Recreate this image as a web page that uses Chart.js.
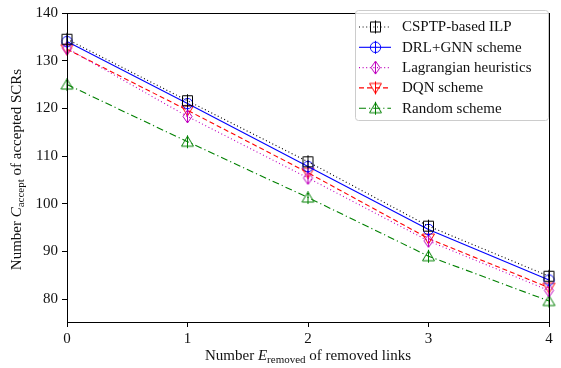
<!DOCTYPE html>
<html><head><meta charset="utf-8">
<script src="https://cdn.jsdelivr.net/npm/chart.js@4"></script>
<style>html,body{margin:0;padding:0;background:#fff}#wrap{width:561px;height:368px}</style>
</head><body><div id="wrap"><canvas id="c" width="561" height="368"></canvas></div>
<script>
const xLabels = [0, 1, 2, 3, 4];
const seriesNames = ["CSPTP-based ILP", "DRL+GNN scheme", "Lagrangian heuristics", "DQN scheme", "Random scheme"];
const ilp = [134.5, 121.6, 108.8, 95.3, 84.8];
const drlgnn = [134.0, 121.0, 107.8, 94.6, 84.0];
const lagrangian = [132.6, 118.3, 105.4, 92.2, 81.8];
const dqn = [132.4, 119.6, 106.5, 92.7, 82.4];
const randomScheme = [125.0, 113.0, 101.3, 89.0, 79.6];
const yTicks = [80, 90, 100, 110, 120, 130, 140];
const xTicks = [0, 1, 2, 3, 4];

const FONT = "'Liberation Serif', 'DejaVu Serif', serif";

function makeMarker(shape, color) {
  const s = 15, c = document.createElement('canvas');
  c.width = s; c.height = s;
  const g = c.getContext('2d');
  g.strokeStyle = color; g.lineWidth = 1;
  const m = s / 2;
  g.beginPath();
  if (shape === 'square') { g.rect(m - 5, m - 5, 10, 10); }
  else if (shape === 'circle') { g.arc(m, m, 5.2, 0, Math.PI * 2); }
  else if (shape === 'diamond') { g.moveTo(m, m - 6.5); g.lineTo(m + 4.5, m); g.lineTo(m, m + 6.5); g.lineTo(m - 4.5, m); g.closePath(); }
  else if (shape === 'tdown') { g.moveTo(m - 6, m - 4.5); g.lineTo(m + 6, m - 4.5); g.lineTo(m, m + 5.5); g.closePath(); }
  else if (shape === 'tup') { g.moveTo(m - 6, m + 4.5); g.lineTo(m + 6, m + 4.5); g.lineTo(m, m - 5.5); g.closePath(); }
  g.stroke();
  g.beginPath(); g.moveTo(m, 1); g.lineTo(m, s - 1); g.stroke();
  return c;
}

const styles = [
  { color: '#000000', dash: [1, 2.6], shape: 'square', data: ilp },
  { color: '#0000ff', dash: [], shape: 'circle', data: drlgnn },
  { color: '#bf00bf', dash: [1, 2.6], shape: 'diamond', data: lagrangian },
  { color: '#ff0000', dash: [5, 3], shape: 'tdown', data: dqn },
  { color: '#008000', dash: [7, 3, 1.2, 3], shape: 'tup', data: randomScheme },
];

const datasets = styles.map((st, i) => {
  const img = makeMarker(st.shape, st.color);
  st.img = img;
  return {
    label: seriesNames[i],
    data: st.data,
    borderColor: st.color,
    backgroundColor: st.color,
    borderWidth: 1.1,
    borderDash: st.dash,
    pointStyle: img,
    pointRadius: 6,
    tension: 0,
    fill: false,
    clip: false,
  };
});

function drawRich(ctx, parts, x, y, align) {
  let total = 0;
  parts.forEach(p => { ctx.font = p.font; total += ctx.measureText(p.t).width; });
  let cx = align === 'center' ? x - total / 2 : x;
  parts.forEach(p => {
    ctx.font = p.font;
    ctx.textAlign = 'left';
    ctx.fillText(p.t, cx, y + (p.dy || 0));
    cx += ctx.measureText(p.t).width;
  });
}

const framePlugin = {
  id: 'frameLegend',
  afterDraw(chart) {
    const ctx = chart.ctx, a = chart.chartArea;
    ctx.save();
    ctx.strokeStyle = '#000'; ctx.lineWidth = 1; ctx.setLineDash([]);
    ctx.strokeRect(Math.round(a.left) + 0.5, Math.round(a.top) + 0.5, Math.round(a.right - a.left), Math.round(a.bottom - a.top));
    // legend
    const lx = 355, ly = 10, lw = 193, lh = 110;
    ctx.fillStyle = 'rgba(255,255,255,0.85)';
    ctx.strokeStyle = '#cccccc';
    ctx.beginPath();
    ctx.roundRect(lx + 0.5, ly + 0.5, lw, lh, 3);
    ctx.fill(); ctx.stroke();
    styles.forEach((st, i) => {
      const y = ly + 17 + i * 20.3;
      ctx.strokeStyle = st.color; ctx.lineWidth = 1.1; ctx.setLineDash(st.dash);
      ctx.beginPath(); ctx.moveTo(359, y); ctx.lineTo(391, y); ctx.stroke();
      ctx.setLineDash([]);
      ctx.drawImage(st.img, 375.5 - st.img.width / 2, y - st.img.height / 2);
      ctx.fillStyle = '#111';
      ctx.font = '15px ' + FONT;
      ctx.textAlign = 'left'; ctx.textBaseline = 'middle';
      ctx.fillText(seriesNames[i], 402, y + 0.5);
    });
    // axis titles
    ctx.fillStyle = '#111';
    ctx.textBaseline = 'alphabetic';
    drawRich(ctx, [
      { t: 'Number ', font: '15px ' + FONT },
      { t: 'E', font: 'italic 15px ' + FONT },
      { t: 'removed', font: '11px ' + FONT, dy: 2.5 },
      { t: ' of removed links', font: '15px ' + FONT },
    ], (a.left + a.right) / 2, 360, 'center');
    ctx.save();
    ctx.translate(21, (a.top + a.bottom) / 2 + 2);
    ctx.rotate(-Math.PI / 2);
    drawRich(ctx, [
      { t: 'Number ', font: '15px ' + FONT },
      { t: 'C', font: 'italic 15px ' + FONT },
      { t: 'accept', font: '11px ' + FONT, dy: 2.5 },
      { t: ' of accepted SCRs', font: '15px ' + FONT },
    ], 0, 0, 'center');
    ctx.restore();
    ctx.restore();
  }
};

new Chart(document.getElementById('c'), {
  type: 'line',
  data: { labels: xLabels, datasets },
  plugins: [framePlugin],
  options: {
    responsive: false,
    animation: false,
    events: [],
    layout: { padding: { left: 0, right: 12, top: 9, bottom: 0 } },
    plugins: { legend: { display: false }, tooltip: { enabled: false } },
    scales: {
      x: {
        type: 'linear', min: 0, max: 4,
        afterFit(s) { s.height = 46; },
        afterBuildTicks(s) { s.ticks = xTicks.map(v => ({ value: v })); },
        grid: { display: true, drawOnChartArea: false, tickLength: 5, tickColor: '#000' },
        border: { display: true, color: '#000' },
        ticks: { color: '#111', font: { family: FONT, size: 15 }, padding: 3, maxRotation: 0 },
      },
      y: {
        min: 75.2, max: 140,
        afterFit(s) { s.width = 67; },
        afterBuildTicks(s) { s.ticks = yTicks.map(v => ({ value: v })); },
        grid: { display: true, drawOnChartArea: false, tickLength: 5, tickColor: '#000' },
        border: { display: true, color: '#000' },
        ticks: { color: '#111', font: { family: FONT, size: 15 }, padding: 4 },
      }
    }
  }
});
</script></body></html>
